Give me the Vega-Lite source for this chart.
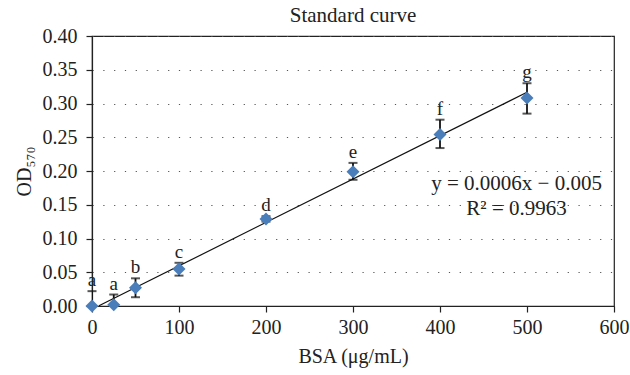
{
  "$schema": "https://vega.github.io/schema/vega-lite/v6.json",
  "width": 522,
  "height": 270,
  "autosize": {"type": "none"},
  "padding": {"left": 92, "top": 36, "right": 16, "bottom": 69},
  "background": "white",
  "title": {"text": "Standard curve", "font": "Liberation Serif", "fontSize": 21, "fontWeight": "normal", "color": "#222", "offset": 0},
  "config": {
    "view": {"stroke": "#222", "strokeWidth": 1.2},
    "axis": {
      "labelFont": "Liberation Serif", "titleFont": "Liberation Serif",
      "labelFontSize": 20, "titleFontSize": 20, "titleFontWeight": "normal",
      "labelColor": "#222", "titleColor": "#222", "labelFlush": false,
      "domainColor": "#222", "tickColor": "#222", "tickSize": 6, "domainWidth": 1.2, "tickWidth": 1.2
    }
  },
  "data": {"values": [
    {"x": 0, "y": 0.0, "lo": 0.0, "hi": 0.022, "lab": "a"},
    {"x": 25, "y": 0.002, "lo": -0.013, "hi": 0.017, "lab": "a"},
    {"x": 50, "y": 0.027, "lo": 0.013, "hi": 0.041, "lab": "b"},
    {"x": 100, "y": 0.055, "lo": 0.045, "hi": 0.064, "lab": "c"},
    {"x": 200, "y": 0.129, "lo": 0.125, "hi": 0.133, "lab": "d"},
    {"x": 300, "y": 0.199, "lo": 0.187, "hi": 0.212, "lab": "e"},
    {"x": 400, "y": 0.254, "lo": 0.234, "hi": 0.276, "lab": "f"},
    {"x": 500, "y": 0.308, "lo": 0.285, "hi": 0.330, "lab": "g"}
  ]},
  "encoding": {
    "x": {"field": "x", "type": "quantitative",
      "scale": {"domain": [0, 600], "nice": false},
      "axis": {"values": [0, 100, 200, 300, 400, 500, 600], "grid": false, "title": "BSA (μg/mL)", "titlePadding": 9, "labelPadding": 5}},
    "y": {"field": "y", "type": "quantitative",
      "scale": {"domain": [0, 0.4], "nice": false},
      "axis": {"values": [0, 0.05, 0.1, 0.15, 0.2, 0.25, 0.3, 0.35, 0.4], "format": ".2f", "title": "OD₅₇₀", "titlePadding": 8, "labelPadding": 9,
        "grid": true, "gridColor": "#555", "gridDash": [1.2, 9.6], "gridWidth": 1.2}}
  },
  "layer": [
    {
      "transform": [{"regression": "y", "on": "x", "extent": [8, 500]}],
      "mark": {"type": "line", "color": "#111", "strokeWidth": 1.2}
    },
    {
      "mark": {"type": "rule", "color": "#111", "strokeWidth": 1.8, "clip": true},
      "encoding": {"y": {"field": "lo", "type": "quantitative"}, "y2": {"field": "hi"}}
    },
    {
      "mark": {"type": "tick", "color": "#111", "orient": "horizontal", "size": 9, "thickness": 2},
      "encoding": {"y": {"field": "hi", "type": "quantitative"}}
    },
    {
      "transform": [{"filter": "datum.lo >= 0"}],
      "mark": {"type": "tick", "color": "#111", "orient": "horizontal", "size": 9, "thickness": 2},
      "encoding": {"y": {"field": "lo", "type": "quantitative"}}
    },
    {
      "mark": {"type": "point", "shape": "diamond", "filled": true, "size": 170, "color": "#4a7ebb", "opacity": 1},
      "encoding": {}
    },
    {
      "mark": {"type": "text", "font": "Liberation Serif", "fontSize": 19, "color": "#222", "baseline": "alphabetic", "dy": -5},
      "encoding": {"y": {"field": "hi", "type": "quantitative"}, "text": {"field": "lab"}}
    },
    {
      "data": {"values": [
        {"tx": 488, "ty": 0.172, "t": "y = 0.0006x − 0.005"},
        {"tx": 488, "ty": 0.135, "t": "R² = 0.9963"}
      ]},
      "mark": {"type": "text", "font": "Liberation Serif", "fontSize": 21, "color": "#222", "baseline": "alphabetic", "align": "center"},
      "encoding": {
        "x": {"field": "tx", "type": "quantitative"},
        "y": {"field": "ty", "type": "quantitative"},
        "text": {"field": "t"}
      }
    }
  ]
}
